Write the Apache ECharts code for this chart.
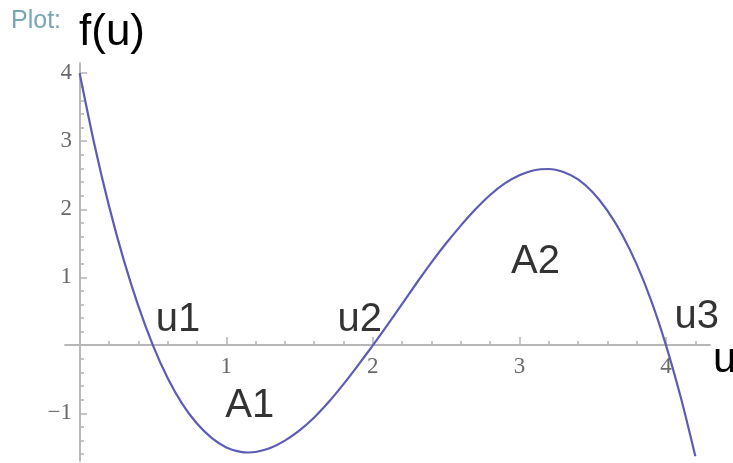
<!DOCTYPE html>
<html lang="en">
  <head>
    <meta charset="utf-8" />
    <title>f(u)</title>
    <style>
      * {
        margin: 0;
        padding: 0;
      }

      #chart-container {
        position: relative;
        width: 733px;
        height: 463px;
        overflow: hidden;
        background: #fff;
      }
    </style>
  </head>

  <body>
    <div id="chart-container"></div>
    <script src="https://cdn.jsdelivr.net/npm/echarts@6/dist/echarts.min.js"></script>
    <script>
      // curve
      var uValues = [
        0, 0.1, 0.2, 0.3, 0.4, 0.5, 0.6, 0.7, 0.8, 0.9, 1.0, 1.1, 1.15, 1.2,
        1.3, 1.4, 1.5, 1.6, 1.7, 1.8, 1.9, 2.0, 2.1, 2.2, 2.3, 2.4, 2.5, 2.6,
        2.7, 2.8, 2.9, 3.0, 3.1, 3.2, 3.3, 3.4, 3.5, 3.6, 3.7, 3.8, 3.9, 4.0,
        4.1, 4.2,
      ];
      var fValues = [
        4, 2.96, 2.05, 1.26, 0.58, 0, -0.48, -0.86, -1.15, -1.36, -1.5, -1.566,
        -1.575, -1.568, -1.51, -1.4, -1.25, -1.06, -0.83, -0.57, -0.29, 0, 0.3,
        0.61, 0.92, 1.22, 1.5, 1.76, 2.0, 2.21, 2.38, 2.5, 2.574, 2.592, 2.548,
        2.44, 2.25, 1.98, 1.63, 1.19, 0.65, 0, -0.76, -1.63,
      ];

      // annotations on the plot
      var noteNames = ["u1", "u2", "u3", "A1", "A2"];
      var noteU = [0.67, 1.91, 4.21, 1.16, 3.11];
      var noteF = [0.38, 0.38, 0.41, -0.89, 1.22];

      // axis ticks
      var xTicks = [1, 2, 3, 4];
      var yTicks = [-1, 1, 2, 3, 4];
      var xMinor = [];
      for (var i = 1; i <= 21; i++) {
        if (i % 5 !== 0) xMinor.push(+(i * 0.2).toFixed(1));
      }
      var yMinor = [];
      for (var j = -8; j <= 20; j++) {
        if (j % 5 !== 0) yMinor.push(+(j * 0.2).toFixed(1));
      }

      var curve = uValues.map(function (u, k) {
        return [u, fValues[k]];
      });
      var notes = noteNames.map(function (n, k) {
        return { name: n, value: [noteU[k], noteF[k]] };
      });

      var axisColor = "#b4b4b4";
      var tickFont = {
        fontFamily: "Liberation Serif",
        fontSize: 23,
        color: "#6a6a6a",
        formatter: function (v) {
          return String(v).replace("-", "\u2212");
        },
      };

      var dom = document.getElementById("chart-container");
      var myChart = echarts.init(dom, null, { renderer: "canvas" });

      // axes sit at the grid edge and are pushed in to cross at the origin
      function xAx(major) {
        return {
          type: "value",
          min: -0.1,
          max: 4.3,
          position: "bottom",
          offset: -116,
          splitLine: { show: false },
          axisLine: {
            onZero: false,
            lineStyle: { color: axisColor, width: 1.5 },
          },
          axisTick: {
            show: true,
            inside: true,
            length: major ? 8 : 4,
            customValues: major ? xTicks : xMinor,
            lineStyle: { color: axisColor, width: 1.5 },
          },
          axisLabel: major
            ? Object.assign({ customValues: xTicks, margin: 10 }, tickFont)
            : { show: false },
        };
      }

      function yAx(major) {
        return {
          type: "value",
          min: -1.7,
          max: 4.15,
          position: "left",
          offset: -15,
          splitLine: { show: false },
          axisLine: {
            onZero: false,
            lineStyle: { color: axisColor, width: 1.5 },
          },
          axisTick: {
            show: true,
            inside: true,
            length: major ? 7 : 4,
            customValues: major ? yTicks : yMinor,
            lineStyle: { color: axisColor, width: 1.5 },
          },
          axisLabel: major
            ? Object.assign({ customValues: yTicks, margin: 8 }, tickFont)
            : { show: false },
        };
      }

      var option = {
        animation: false,
        title: [
          {
            text: "Plot:",
            left: 6,
            top: 4,
            textStyle: {
              fontFamily: "Liberation Sans",
              fontWeight: "normal",
              fontSize: 25,
              color: "#78a6b2",
            },
          },
          {
            text: "f(u)",
            left: 74,
            top: 6,
            textStyle: {
              fontFamily: "Liberation Sans",
              fontWeight: "normal",
              fontSize: 44,
              color: "#000",
            },
          },
          {
            text: "u",
            left: 708,
            top: 334,
            textStyle: {
              fontFamily: "Liberation Sans",
              fontWeight: "normal",
              fontSize: 42,
              color: "#000",
            },
          },
        ],
        grid: {
          left: 65,
          top: 63,
          width: 645,
          height: 398,
          outerBoundsMode: "none",
        },
        xAxis: [xAx(true), xAx(false)],
        yAxis: [yAx(true), yAx(false)],
        series: [
          {
            type: "line",
            data: curve,
            xAxisIndex: 0,
            yAxisIndex: 0,
            smooth: 0.3,
            symbol: "none",
            lineStyle: { color: "#5c5cb6", width: 2.2 },
            silent: true,
          },
          {
            type: "scatter",
            data: notes,
            xAxisIndex: 0,
            yAxisIndex: 0,
            symbolSize: 1,
            itemStyle: { color: "transparent" },
            silent: true,
            label: {
              show: true,
              position: "inside",
              formatter: "{b}",
              fontFamily: "Liberation Sans",
              fontSize: 40,
              color: "#000",
            },
          },
        ],
      };

      myChart.setOption(option);
      window.addEventListener("resize", myChart.resize);
    </script>
  </body>
</html>
